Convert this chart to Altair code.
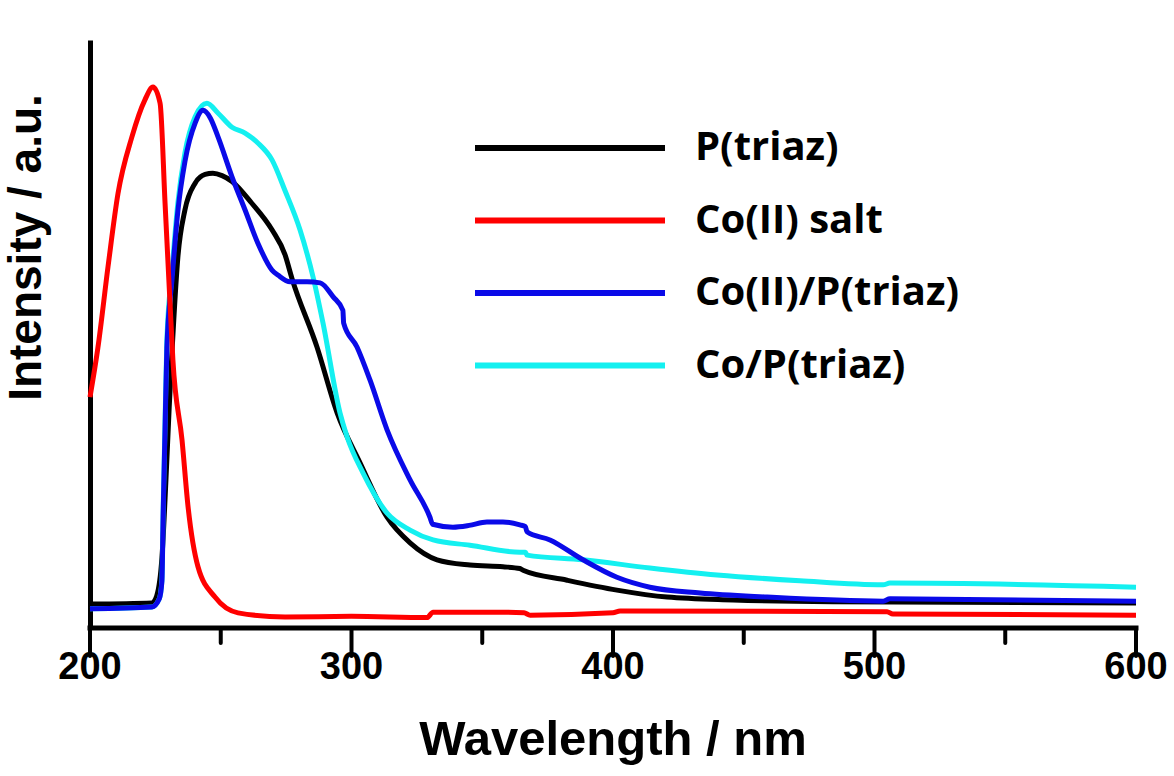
import altair as alt
import pandas as pd

series_names = ["P(triaz)", "Co(II) salt", "Co(II)/P(triaz)", "Co/P(triaz)"]
series_colors = ["#000000", "#ff0000", "#0a0ae8", "#14f0f0"]
draw_order = ["P(triaz)", "Co/P(triaz)", "Co(II)/P(triaz)", "Co(II) salt"]
x_title = "Wavelength / nm"
y_title = "Intensity / a.u."

ptriaz_x = [200, 223.7, 225.5, 227.5, 229, 230.3, 231.4, 233.6, 236.3, 240.2, 244, 247, 250.5,
            254.3, 261.8, 269.6, 274.6, 277.2, 286.8, 294.5, 303.3, 313.6, 322.4, 332.7, 345.3,
            357.9, 364.4, 365.6, 382.4, 401.5, 420.7, 445.9, 484.1, 600]
ptriaz_y = [0.041, 0.043, 0.055, 0.12, 0.25, 0.38, 0.477, 0.636, 0.717, 0.763, 0.778, 0.780, 0.776,
            0.766, 0.729, 0.683, 0.640, 0.600, 0.482, 0.369, 0.283, 0.190, 0.146, 0.117, 0.108,
            0.105, 0.102, 0.099, 0.082, 0.065, 0.053, 0.048, 0.045, 0.043]

salt_x = [200, 203, 206.9, 210.7, 216, 221, 224.1, 226.8, 228.7, 230.6, 231.7, 235.2, 237.5,
          241.3, 247.8, 256.6, 274.6, 300, 328.9, 331.2, 356.8, 366, 368.3, 400, 402.7, 504.8,
          507, 600]
salt_y = [0.396, 0.480, 0.620, 0.745, 0.842, 0.906, 0.928, 0.900, 0.729, 0.557, 0.460, 0.322,
          0.208, 0.105, 0.053, 0.026, 0.019, 0.020, 0.018, 0.027, 0.027, 0.026, 0.022, 0.026,
          0.029, 0.028, 0.024, 0.022]

co2p_x = [200, 223.7, 226.5, 227.5, 228, 228.7, 229.4, 231.4, 233.6, 236.3, 240.2, 243.2, 246,
          249, 254.3, 259.3, 264.2, 269.6, 272, 276.5, 283, 288, 293, 296.7, 297, 302.1, 307.1,
          313.6, 322.4, 330, 331, 338.8, 345, 351.8, 357.9, 364.4, 366.5, 367.1, 375.9, 388.5,
          401.5, 414.1, 433.3, 458.9, 503.3, 505.9, 600]
co2p_y = [0.033, 0.036, 0.05, 0.08, 0.20, 0.34, 0.48, 0.60, 0.715, 0.800, 0.866, 0.888, 0.875,
          0.842, 0.774, 0.717, 0.660, 0.614, 0.605, 0.594, 0.594, 0.592, 0.568, 0.545, 0.523,
          0.482, 0.425, 0.340, 0.254, 0.190, 0.178, 0.173, 0.176, 0.182, 0.182, 0.177, 0.174,
          0.165, 0.151, 0.117, 0.087, 0.070, 0.060, 0.053, 0.046, 0.050, 0.046]

cop_x = [200, 223.7, 226.5, 227.5, 228, 228.7, 229.4, 231.4, 233.6, 236.3, 240.2, 244.7, 249,
         254.3, 259.3, 264.2, 269.6, 274.6, 280.3, 285.3, 289.1, 295.6, 298.3, 304.4, 313.6,
         322.4, 331.2, 345.3, 364.4, 366.5, 367.1, 388.5, 414.1, 439.8, 471.5, 503.3, 505.9, 600]
cop_y = [0.033, 0.036, 0.05, 0.082, 0.208, 0.352, 0.494, 0.614, 0.729, 0.815, 0.877, 0.900,
         0.883, 0.859, 0.849, 0.832, 0.803, 0.750, 0.683, 0.602, 0.523, 0.369, 0.328, 0.266,
         0.197, 0.168, 0.151, 0.142, 0.130, 0.130, 0.125, 0.117, 0.103, 0.091, 0.081, 0.074,
         0.077, 0.070]

series_data = {
    "P(triaz)": (ptriaz_x, ptriaz_y),
    "Co(II) salt": (salt_x, salt_y),
    "Co(II)/P(triaz)": (co2p_x, co2p_y),
    "Co/P(triaz)": (cop_x, cop_y),
}

major_ticks = [200, 300, 400, 500, 600]
minor_ticks = [250, 350, 450, 550]

rows = []
for name in draw_order:
    xs, ys = series_data[name]
    for xv, yv in zip(xs, ys):
        rows.append({"series": name, "wavelength": xv, "intensity": yv})
df = pd.DataFrame(rows)
major_df = pd.DataFrame({"tick": major_ticks, "label": [str(t) for t in major_ticks]})
minor_df = pd.DataFrame({"tick": minor_ticks})
title_df = pd.DataFrame({"text": [x_title]})

PLOT_W, PLOT_H = 1046, 588
xscale = alt.Scale(domain=[200, 600], nice=False, zero=False)
yscale = alt.Scale(domain=[0, 1.0086], nice=False, zero=True)

lines = alt.Chart(df).mark_line(strokeWidth=5, interpolate="monotone").encode(
    x=alt.X("wavelength:Q", scale=xscale, axis=None),
    y=alt.Y("intensity:Q", scale=yscale,
            axis=alt.Axis(ticks=False, labels=False, grid=False, domainWidth=5,
                          domainColor="black",
                          title=y_title, titleFont="Liberation Sans",
                          titleFontWeight="bold", titleFontSize=46, titleColor="black",
                          titleAngle=270, titleX=-50, titleY=207, titleAlign="center",
                          titleBaseline="alphabetic")),
    color=alt.Color("series:N",
                    scale=alt.Scale(domain=series_names, range=series_colors),
                    legend=alt.Legend(title=None, orient="none", legendX=382, legendY=86,
                                      padding=0, symbolType="M-1,0H9", symbolSize=1444,
                                      symbolStrokeWidth=6, labelOffset=179,
                                      labelFont="Open Sans", labelFontWeight="bold",
                                      labelFontSize=40, labelColor="black", rowPadding=30.5,
                                      labelLimit=0)),
)

x_domain = alt.Chart(title_df).mark_rule(color="black", strokeWidth=5, strokeCap="square").encode(
    x=alt.value(0), x2=alt.value(PLOT_W), y=alt.value(PLOT_H),
)
major_rules = alt.Chart(major_df).mark_rule(color="black", strokeWidth=4, strokeCap="round").encode(
    x=alt.X("tick:Q", scale=xscale, axis=None),
    y=alt.value(PLOT_H), y2=alt.value(PLOT_H + 28),
)
minor_rules = alt.Chart(minor_df).mark_rule(color="black", strokeWidth=4, strokeCap="round").encode(
    x=alt.X("tick:Q", scale=xscale, axis=None),
    y=alt.value(PLOT_H), y2=alt.value(PLOT_H + 15),
)
tick_labels = alt.Chart(major_df).mark_text(
    font="Liberation Sans", fontWeight="bold", fontSize=38, color="black",
    align="center", baseline="alphabetic",
).encode(
    x=alt.X("tick:Q", scale=xscale, axis=None),
    y=alt.value(PLOT_H + 51),
    text="label:N",
)
x_title_mark = alt.Chart(title_df).mark_text(
    font="Liberation Sans", fontWeight="bold", fontSize=49, color="black",
    align="center", baseline="alphabetic",
).encode(
    x=alt.value(PLOT_W / 2), y=alt.value(PLOT_H + 127), text="text:N",
)

chart = alt.layer(lines, x_domain, major_rules, minor_rules, tick_labels, x_title_mark).properties(
    width=PLOT_W, height=PLOT_H,
    autosize=alt.AutoSizeParams(type="none"),
    padding={"left": 90, "top": 40, "right": 38, "bottom": 148},
    background="white",
).configure_view(stroke=None)

chart.save("out.html", embed_options={"renderer": "svg", "actions": False})
